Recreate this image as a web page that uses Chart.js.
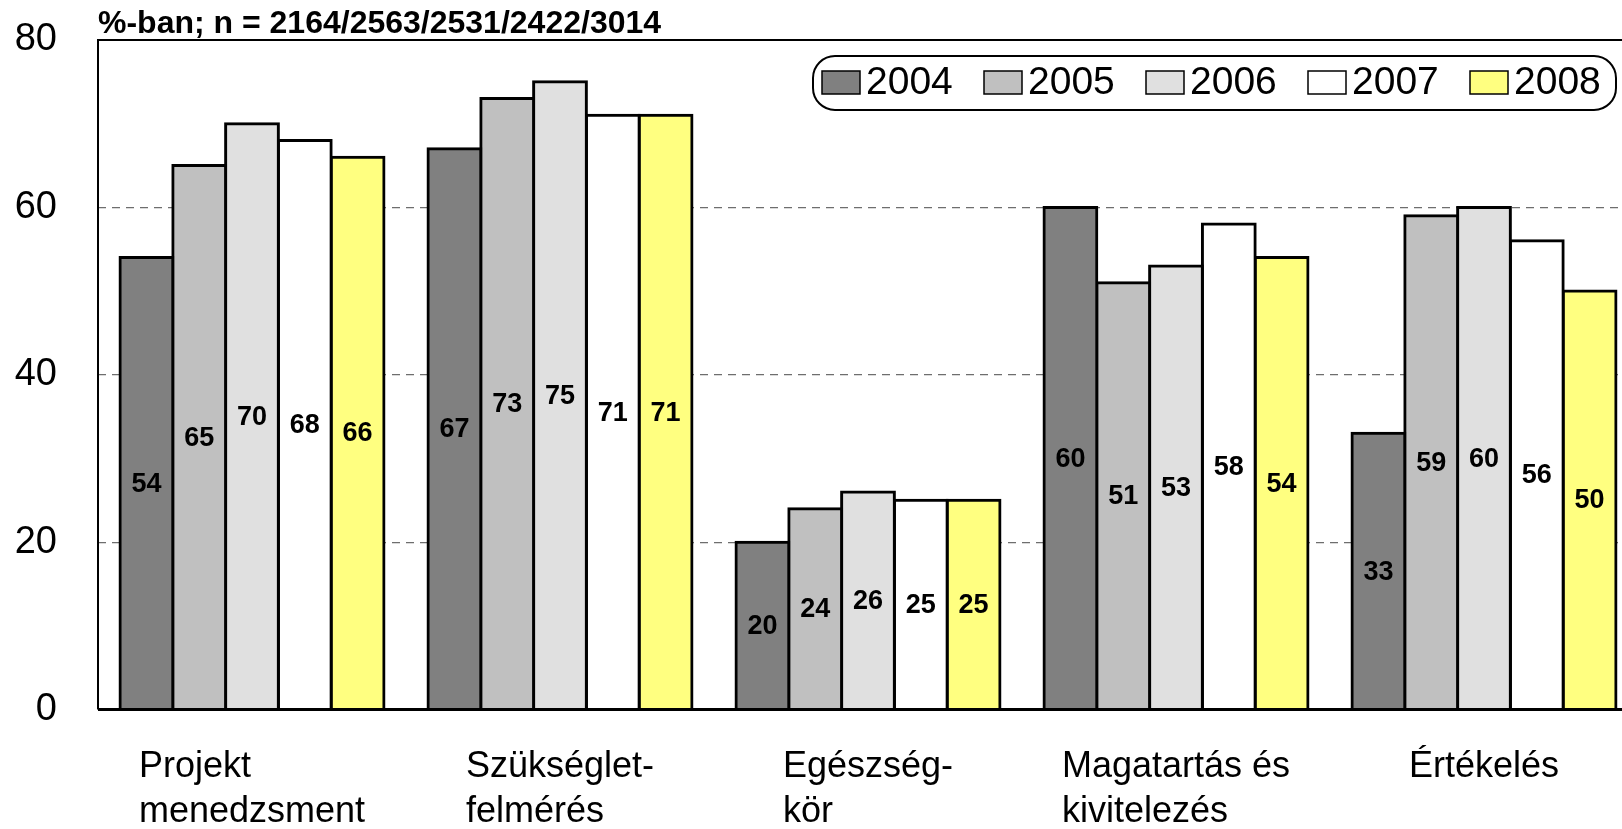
<!DOCTYPE html>
<html>
<head>
<meta charset="utf-8">
<script src="https://cdn.jsdelivr.net/npm/chart.js@4.4.1/dist/chart.umd.min.js"></script>
<style>
    html, body { margin: 0; padding: 0; background: #fff; overflow: hidden; }
    #wrap { width: 1622px; height: 829px; overflow: hidden; }
</style>
</head>
<body>
<div id="wrap"><canvas id="chart" width="1640" height="829"></canvas></div>
<script>
// data
const categories = [
    ["Projekt", "menedzsment"],
    ["Szükséglet-", "felmérés"],
    ["Egészség-", "kör"],
    ["Magatartás és", "kivitelezés"],
    ["Értékelés"]
];
const years = ["2004", "2005", "2006", "2007", "2008"];
const values2004 = [54, 67, 20, 60, 33];
const values2005 = [65, 73, 24, 51, 59];
const values2006 = [70, 75, 26, 53, 60];
const values2007 = [68, 71, 25, 58, 56];
const values2008 = [66, 71, 25, 54, 50];
const yTicks = [0, 20, 40, 60, 80];
const chartTitle = "%-ban; n = 2164/2563/2531/2422/3014";

const seriesValues = [values2004, values2005, values2006, values2007, values2008];
const fills = ['#808080', '#C0C0C0', '#E0E0E0', '#FFFFFF', '#FFFF80'];
const FONT = "'Liberation Sans', Arial, sans-serif";

// value in the middle of each bar
const valueLabels = {
    id: 'valueLabels',
    afterDatasetsDraw(chart) {
        const ctx = chart.ctx;
        ctx.save();
        ctx.font = "bold 27px " + FONT;
        ctx.fillStyle = '#000';
        ctx.textAlign = 'center';
        ctx.textBaseline = 'middle';
        chart.data.datasets.forEach((ds, di) => {
            chart.getDatasetMeta(di).data.forEach((bar, i) => {
                ctx.fillText(String(ds.data[i]), bar.x, (bar.y + bar.base) / 2 + 1);
            });
        });
        ctx.restore();
    }
};

// plot frame, category labels, title and legend
const decorations = {
    id: 'decorations',
    afterDraw(chart) {
        const ctx = chart.ctx;
        const area = chart.chartArea;
        const xs = chart.scales.x;

        ctx.save();
        ctx.strokeStyle = '#000';
        ctx.lineWidth = 2;
        ctx.beginPath();
        ctx.moveTo(area.left, area.bottom);
        ctx.lineTo(area.left, area.top);
        ctx.lineTo(area.right, area.top);
        ctx.lineTo(area.right, area.bottom);
        ctx.stroke();
        ctx.lineWidth = 3;
        ctx.beginPath();
        ctx.moveTo(area.left, area.bottom);
        ctx.lineTo(area.right, area.bottom);
        ctx.stroke();

        // category labels: lines left aligned, block centred on the category
        ctx.font = "36px " + FONT;
        ctx.fillStyle = '#000';
        ctx.textAlign = 'left';
        ctx.textBaseline = 'alphabetic';
        categories.forEach((lines, i) => {
            const cx = xs.getPixelForValue(i);
            const w = Math.max(...lines.map(l => ctx.measureText(l).width));
            lines.forEach((line, li) => {
                ctx.fillText(line, cx - w / 2, area.bottom + 67 + li * 45);
            });
        });

        // title
        ctx.font = "bold 32px " + FONT;
        ctx.fillText(chartTitle, area.left, 33);

        // legend
        const lx = 813, ly = 56, lw = 803, lh = 54, r = 22;
        ctx.lineWidth = 2;
        ctx.fillStyle = '#fff';
        ctx.beginPath();
        ctx.roundRect(lx, ly, lw, lh, r);
        ctx.fill();
        ctx.stroke();
        ctx.font = "39px " + FONT;
        ctx.textBaseline = 'middle';
        years.forEach((year, i) => {
            const sx = 822 + i * 162;
            ctx.fillStyle = fills[i];
            ctx.fillRect(sx, 71, 38, 23);
            ctx.lineWidth = 1.5;
            ctx.strokeRect(sx, 71, 38, 23);
            ctx.fillStyle = '#000';
            ctx.fillText(year, sx + 44, 83);
        });
        ctx.restore();
    }
};

new Chart(document.getElementById('chart'), {
    type: 'bar',
    data: {
        labels: categories.map(c => c.join(' ')),
        datasets: years.map((year, i) => ({
            label: year,
            data: seriesValues[i],
            backgroundColor: fills[i],
            borderColor: '#000',
            borderWidth: 3,
            borderSkipped: 'start',
            inflateAmount: 1.5,
            categoryPercentage: 0.857,
            barPercentage: 1
        }))
    },
    options: {
        responsive: false,
        animation: false,
        devicePixelRatio: 1,
        layout: { padding: { top: 40, right: 2, left: 0, bottom: 0 } },
        plugins: {
            legend: { display: false },
            title: { display: false },
            tooltip: { enabled: false }
        },
        scales: {
            x: {
                grid: { display: false },
                border: { display: false },
                ticks: { display: false },
                afterFit: (s) => { s.height = 119.5; s.paddingLeft = 0; s.paddingRight = 0; }
            },
            y: {
                min: 0,
                max: 80,
                afterBuildTicks: (s) => { s.ticks = yTicks.map(v => ({ value: v })); },
                afterFit: (s) => { s.width = 98; s.paddingTop = 0; s.paddingBottom = 0; },
                grid: {
                    drawTicks: false,
                    lineWidth: 1.2,
                    color: (c) => (c.tick && c.tick.value > 0 && c.tick.value < 80) ? '#6e6e6e' : 'rgba(0,0,0,0)'
                },
                border: { display: false, dash: [8, 6] },
                ticks: {
                    padding: 41,
                    color: '#000',
                    font: { family: FONT, size: 38 }
                }
            }
        }
    },
    plugins: [valueLabels, decorations]
});
</script>
</body>
</html>
